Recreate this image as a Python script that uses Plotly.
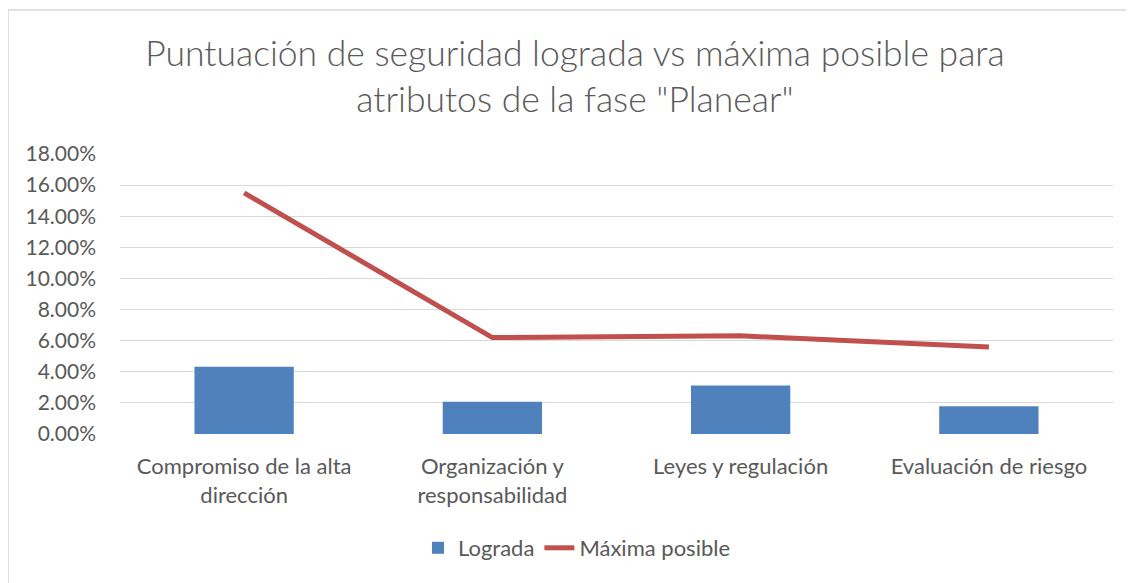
import plotly.graph_objects as go

categories = ["Compromiso de la alta dirección", "Organización y responsabilidad",
              "Leyes y regulación", "Evaluación de riesgo"]
tick_labels = ["Compromiso de la alta<br>dirección", "Organización y<br>responsabilidad",
               "Leyes y regulación", "Evaluación de riesgo"]
lograda = [0.0432, 0.0208, 0.0311, 0.0178]
maxima = [0.155, 0.062, 0.0631, 0.056]
y_ticks = [0, 0.02, 0.04, 0.06, 0.08, 0.10, 0.12, 0.14, 0.16, 0.18]

FONT = "Lato"
GRAY = "#595959"

fig = go.Figure()
fig.add_trace(go.Bar(x=categories, y=lograda, name="Lograda",
                     marker=dict(color="#4F81BD", line=dict(width=0))))
fig.add_trace(go.Scatter(x=categories, y=maxima, name="Máxima posible", mode="lines",
                         line=dict(color="#C0504D", width=5)))

# page body has an 8px margin; figure coordinates = screen coordinates - 8
OFF = 8
W, H = 1126, 575
L, R, T, B = 120 - OFF, 21, 154 - OFF, 149
pw, ph = W - L - R, H - T - B

def px(xs):
    return (xs - OFF - L) / pw

def py(ys):
    return (H - B - (ys - OFF)) / ph

fig.update_layout(
    width=W, height=H,
    margin=dict(l=L, r=R, t=T, b=B, autoexpand=False),
    paper_bgcolor="white", plot_bgcolor="white",
    font=dict(family=FONT, color=GRAY, size=21),
    title=dict(text="Puntuación de seguridad lograda vs máxima posible para<br>atributos de la fase \"Planear\"",
               x=(575 - OFF) / W, xanchor="center", y=1 - 58 / H, yanchor="top", yref="container",
               font=dict(family=FONT, size=35.5, color=GRAY, weight=300)),
    bargap=0.6,
    showlegend=True,
    legend=dict(orientation="h", x=px(577), xanchor="center", y=py(548), yanchor="middle",
                font=dict(size=22, color=GRAY), traceorder="normal"),
    xaxis=dict(tickmode="array", tickvals=categories, ticktext=tick_labels,
               showgrid=False, showline=False, ticks="", ticklabelstandoff=17,
               tickfont=dict(size=22, color=GRAY)),
    yaxis=dict(range=[0, 0.18], tickmode="array", tickvals=y_ticks, tickformat=".2%",
               showgrid=True, gridcolor="#D9D9D9", gridwidth=1, zeroline=False,
               showline=False, ticks="", ticklabelstandoff=23,
               tickfont=dict(size=21, color=GRAY)),
    shapes=[
        dict(type="line", xref="paper", yref="paper", x0=px(8), x1=px(8), y0=py(10), y1=py(600),
             line=dict(color="#D9D9D9", width=1.5)),
        dict(type="line", xref="paper", yref="paper", x0=px(8), x1=px(1150), y0=py(10), y1=py(10),
             line=dict(color="#D9D9D9", width=1.5)),
    ],
)

fig.write_html("out.html")
